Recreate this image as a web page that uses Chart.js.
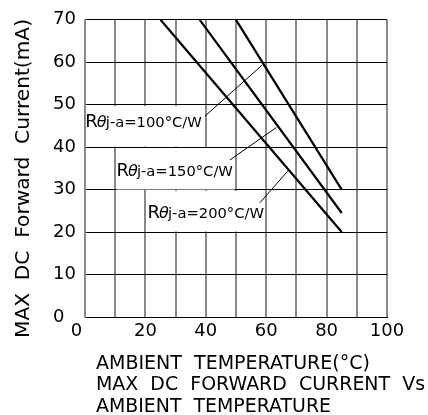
<!DOCTYPE html>
<html>
<head>
<meta charset="utf-8">
<script src="https://cdn.jsdelivr.net/npm/chart.js@4.4.1/dist/chart.umd.min.js"></script>
<style>
  html, body { margin: 0; padding: 0; background: #fff; }
  #wrap { width: 428px; height: 415px; position: relative; }
</style>
</head>
<body>
<div id="wrap"><canvas id="c" width="428" height="415"></canvas></div>
<script>
// ---- data ----
const tempR100 = [50, 85];
const currentR100 = [70, 30];
const tempR150 = [38, 85];
const currentR150 = [70, 24.5];
const tempR200 = [25, 85];
const currentR200 = [70, 20];
const seriesNames = ['100°C/W', '150°C/W', '200°C/W'];
const xTickLabels = ['0', '20', '40', '60', '80', '100'];
const yTickLabels = ['0', '10', '20', '30', '40', '50', '60', '70'];
const yTitle = 'MAX  DC  Forward  Current(mA)';
const xTitleLines = ['AMBIENT  TEMPERATURE(°C)', 'MAX  DC  FORWARD  CURRENT  Vs', 'AMBIENT  TEMPERATURE'];

// annotation placement in data coordinates
const annotations = [
  { name: seriesNames[0], box: [0, 40, 40, 50], text: [0.1, 44.7], leader: [39.7, 47.3, 58.6, 59.3] },
  { name: seriesNames[1], box: [10, 50, 30, 40], text: [10.4, 33.3], leader: [48, 37, 63.3, 44.6] },
  { name: seriesNames[2], box: [20, 60, 20, 30], text: [20.7, 23.4], leader: [57.9, 26.9, 67.2, 34.4] }
];

function pts(xs, ys) { return xs.map((x, i) => ({ x: x, y: ys[i] })); }

function fitText(ctx, text, x, y, width) {
  const w = ctx.measureText(text).width;
  ctx.save();
  ctx.translate(x, y);
  ctx.scale(width / w, 1);
  ctx.fillText(text, 0, 0);
  ctx.restore();
}

const annotPlugin = {
  id: 'annot',
  beforeDatasetsDraw(chart) {
    const ctx = chart.ctx, xs = chart.scales.x, ys = chart.scales.y;
    ctx.save();
    annotations.forEach(a => {
      const x0 = xs.getPixelForValue(a.box[0]), x1 = xs.getPixelForValue(a.box[1]);
      const y0 = ys.getPixelForValue(a.box[3]), y1 = ys.getPixelForValue(a.box[2]);
      ctx.fillStyle = '#fff';
      ctx.fillRect(Math.round(x0) + 1.5, Math.round(y0) + 1, Math.round(x1) - Math.round(x0) - 3, Math.round(y1) - Math.round(y0) - 1.5);
      // leader
      ctx.strokeStyle = '#000';
      ctx.lineWidth = 1;
      ctx.beginPath();
      ctx.moveTo(xs.getPixelForValue(a.leader[0]), ys.getPixelForValue(a.leader[1]));
      ctx.lineTo(xs.getPixelForValue(a.leader[2]), ys.getPixelForValue(a.leader[3]));
      ctx.stroke();
      // text
      const tx = xs.getPixelForValue(a.text[0]), ty = ys.getPixelForValue(a.text[1]);
      ctx.fillStyle = '#000';
      ctx.textBaseline = 'alphabetic';
      ctx.textAlign = 'left';
      ctx.font = '18px "DejaVu Sans"';
      ctx.fillText('R', tx, ty);
      ctx.font = 'italic 16px "DejaVu Sans"';
      ctx.fillText('θ', tx + 11.5, ty);
      ctx.font = '14px "DejaVu Sans"';
      fitText(ctx, 'j-a=' + a.name, tx + 20.5, ty, 96);
    });
    ctx.restore();
  },
  afterDraw(chart) {
    const ctx = chart.ctx;
    ctx.save();
    ctx.fillStyle = '#000';
    ctx.textAlign = 'left';
    ctx.textBaseline = 'alphabetic';
    ctx.font = '20px "DejaVu Sans"';
    // x titles
    const widths = [274, 329, 235];
    const bases = [368.5, 389.5, 411.5];
    xTitleLines.forEach((t, i) => fitText(ctx, t, 96, bases[i], widths[i]));
    // y title rotated
    ctx.translate(29, 338);
    ctx.rotate(-Math.PI / 2);
    fitText(ctx, yTitle, 0, 0, 319);
    ctx.restore();
  }
};

const lineStyle = { showLine: true, borderColor: '#000', borderWidth: 2.2, pointRadius: 0, fill: false };

new Chart(document.getElementById('c'), {
  type: 'scatter',
  data: {
    datasets: [
      Object.assign({ label: seriesNames[0], data: pts(tempR100, currentR100) }, lineStyle),
      Object.assign({ label: seriesNames[1], data: pts(tempR150, currentR150) }, lineStyle),
      Object.assign({ label: seriesNames[2], data: pts(tempR200, currentR200) }, lineStyle)
    ]
  },
  options: {
    responsive: false,
    animation: false,
    events: [],
    layout: { padding: { top: 15, right: 41, left: 0, bottom: 0 } },
    plugins: { legend: { display: false }, tooltip: { enabled: false } },
    scales: {
      x: {
        type: 'linear', min: 0, max: 100,
        afterFit(s) { s.height = 98; },
        grid: { color: '#8a8a8a', lineWidth: 2, drawTicks: false },
        border: { color: '#000', width: 1 },
        ticks: {
          stepSize: 10, autoSkip: false, maxRotation: 0, padding: 4,
          color: '#000', font: { family: 'DejaVu Sans', size: 18 },
          callback(v) {
            const s = String(v);
            if (!xTickLabels.includes(s)) return '';
            return s === '0' ? '0   ' : s;
          }
        }
      },
      y: {
        type: 'linear', min: 0, max: 70,
        afterFit(s) { s.width = 85; },
        grid: { color: '#000', lineWidth: 1, drawTicks: false },
        border: { color: '#8a8a8a', width: 2 },
        ticks: {
          stepSize: 10, autoSkip: false, padding: 9,
          color: '#000', font: { family: 'DejaVu Sans', size: 18 },
          callback(v) {
            const s = String(v);
            if (!yTickLabels.includes(s)) return '';
            return s === '0' ? '0  ' : s;
          }
        }
      }
    }
  },
  plugins: [annotPlugin]
});
</script>
</body>
</html>
